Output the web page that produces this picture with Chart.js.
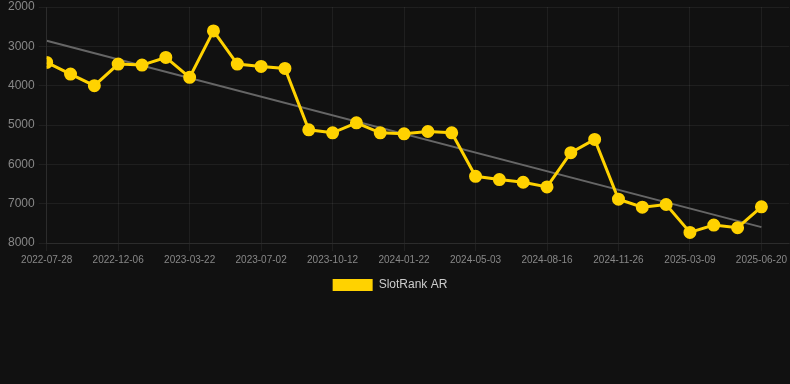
<!DOCTYPE html>
<html>
<head>
<meta charset="utf-8">
<script src="https://cdn.jsdelivr.net/npm/chart.js@4/dist/chart.umd.min.js"></script>
<style>
  html, body { margin: 0; padding: 0; background: #111111; }
  #wrap { width: 790px; height: 301px; position: relative; }
</style>
</head>
<body>
<div id="wrap"><canvas id="c"></canvas></div>
<script>
// Tick labels shown on the x axis (every 3rd observation)
const tickLabels = ['2022-07-28', '2022-12-06', '2023-03-22', '2023-07-02', '2023-10-12',
  '2024-01-22', '2024-05-03', '2024-08-16', '2024-11-26', '2025-03-09', '2025-06-20'];
const tickEvery = 3;

// SlotRank AR values (one per observation)
const rankValues = [3410, 3705, 4000, 3451, 3477, 3283, 3789, 2608, 3451, 3511, 3562,
  5122, 5198, 4945, 5198, 5224, 5165, 5198,
  6304, 6388, 6456, 6574, 5704, 5367,
  6886, 7089, 7021, 7730, 7544, 7612, 7080];

const seriesName = 'SlotRank AR';

const yTicks = { min: 2000, max: 8000, step: 1000 };

// Build point data and linear trend (least squares)
const points = rankValues.map((v, i) => ({ x: i, y: v }));
const n = rankValues.length;
let sx = 0, sy = 0, sxy = 0, sxx = 0;
rankValues.forEach((v, i) => { sx += i; sy += v; sxy += i * v; sxx += i * i; });
const slope = (n * sxy - sx * sy) / (n * sxx - sx * sx);
const intercept = (sy - slope * sx) / n;
const trend = [{ x: 0, y: intercept }, { x: n - 1, y: intercept + slope * (n - 1) }];

const yellow = '#FFD200';
const xRightRoom = 1.17; // empty room after the last observation, in steps

// shift legend a little to the left, like the reference
const legendShift = {
  id: 'legendShift',
  afterLayout(chart) {
    if (chart.legend) { chart.legend.right -= 14; }
  }
};

new Chart(document.getElementById('c'), {
  type: 'line',
  data: {
    datasets: [
      {
        label: seriesName,
        data: points,
        borderColor: yellow,
        backgroundColor: yellow,
        borderWidth: 3,
        pointRadius: 5,
        pointBackgroundColor: yellow,
        pointBorderColor: yellow,
        tension: 0,
        order: 1
      },
      {
        label: 'trend',
        data: trend,
        borderColor: '#666666',
        borderWidth: 2,
        pointRadius: 0,
        fill: false,
        order: 2
      }
    ]
  },
  plugins: [legendShift],
  options: {
    responsive: true,
    maintainAspectRatio: false,
    animation: false,
    layout: { autoPadding: false, padding: { left: 4, top: 1, right: 0 } },
    plugins: {
      legend: {
        position: 'bottom',
        labels: {
          color: '#cccccc',
          font: { size: 12 },
          boxWidth: 40,
          boxHeight: 12,
          generateLabels: (chart) => {
            const items = Chart.defaults.plugins.legend.labels.generateLabels(chart);
            return items
              .filter((it) => it.text !== 'trend')
              .map((it) => Object.assign(it, { lineWidth: 0 }));
          }
        }
      },
      tooltip: { enabled: false }
    },
    scales: {
      x: {
        type: 'linear',
        min: 0,
        max: n - 1 + xRightRoom,
        grid: { color: 'rgba(255,255,255,0.06)' },
        border: { color: 'rgba(255,255,255,0.06)' },
        ticks: {
          stepSize: tickEvery,
          includeBounds: false,
          autoSkip: false,
          maxRotation: 0,
          color: '#888888',
          font: { size: 10 },
          callback: (v) => {
            const k = v / tickEvery;
            return Number.isInteger(k) && k < tickLabels.length ? tickLabels[k] : null;
          }
        }
      },
      y: {
        reverse: true,
        min: yTicks.min,
        max: yTicks.max,
        grid: { color: 'rgba(255,255,255,0.06)' },
        border: { color: 'rgba(255,255,255,0.06)' },
        ticks: {
          stepSize: yTicks.step,
          color: '#888888',
          font: { size: 12, lineHeight: 0.5 },
          padding: 4,
          callback: (v) => String(v)
        }
      }
    }
  }
});
</script>
</body>
</html>
